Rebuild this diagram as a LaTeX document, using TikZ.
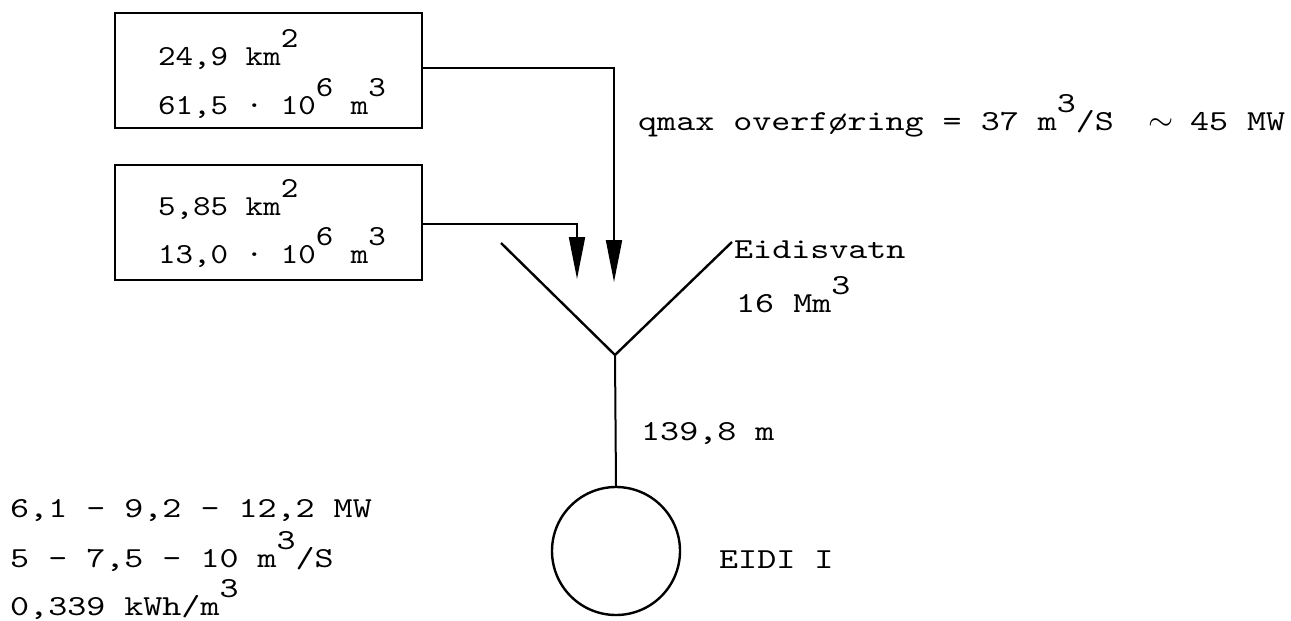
\documentclass[tikz,border=0pt]{standalone}
\usepackage{fontspec}
\usetikzlibrary{arrows.meta}
\newfontfamily\twA{lmmono10-regular.otf}[FakeStretch=1.15]
\newfontfamily\twB{lmmono10-regular.otf}[FakeStretch=1.25]
\newcommand\upr[1]{\raisebox{0.6em}{#1}}
\newcommand\tld{\makebox[0.656em]{\scalebox{1.3}{$\sim$}}}
\begin{document}
\begin{tikzpicture}[x=1pt,y=-1pt,
  box/.style={draw, line width=2.2pt, minimum width=307pt, minimum height=115pt, inner sep=0pt},
  txa/.style={anchor=base west, inner sep=0pt, font=\twA\fontsize{29}{40}\selectfont},
  txb/.style={anchor=base west, inner sep=0pt, font=\twB\fontsize{29}{40}\selectfont},
  flow/.style={line width=2pt, -{Triangle[length=42pt, width=16pt]}},
  pipe/.style={line width=2.4pt}]
\useasboundingbox (0,0) rectangle (1291,621);
% boxes
\node[box] (b1) at (268.5,70.5) {};
\node[box] (b2) at (268.5,222.5) {};
\node[txa] (t1a) at (158,65) {24,9 km\upr{2}};
\node[txa] (t1b) at (158,114) {61,5 · 10\upr{6} m\upr{3}};
\node[txa] (t2a) at (158,215) {5,85 km\upr{2}};
\node[txa] (t2b) at (158,263) {13,0 · 10\upr{6} m\upr{3}};
% reservoir V
\coordinate (vl) at (501,243);
\coordinate (vr) at (732,242);
\coordinate (vtx) at (615,355);
\draw[pipe, line join=miter] (vl) -- (vtx) -- (vr);
% arrow tips
\coordinate (tipR) at (614,282);
\coordinate (tipL) at (577,279);
\draw[flow] ([yshift=2.5pt]b1.east) -| (tipR);
\draw[flow] ([yshift=-1.5pt]b2.east) -| (tipL);
% generator
\node[circle, draw, line width=2.4pt, minimum size=128pt, inner sep=0pt] (gen) at (616,551) {};
\draw[line width=2pt] (vtx) -- (gen.north);
% labels
\node[txb] (qm) at (638,130) {qmax overføring = 37 m\upr{3}/S\ \ \tld\ 45 MW};
\node[txb] (ev) at (734,258) {Eidisvatn};
\node[txb] (evm) at (736,312) {16 Mm\upr{3}};
\node[txb] (hd) at (641,440) {139,8 m};
\node[txb] (ei) at (719,568) {EIDI I};
\node[txb] (l1) at (10,517) {6,1 - 9,2 - 12,2 MW};
\node[txb] (l2) at (10,567) {5 - 7,5 - 10 m\upr{3}/S};
\node[txb] (l3) at (10,615) {0,339 kWh/m\upr{3}};
\end{tikzpicture}
\end{document}
